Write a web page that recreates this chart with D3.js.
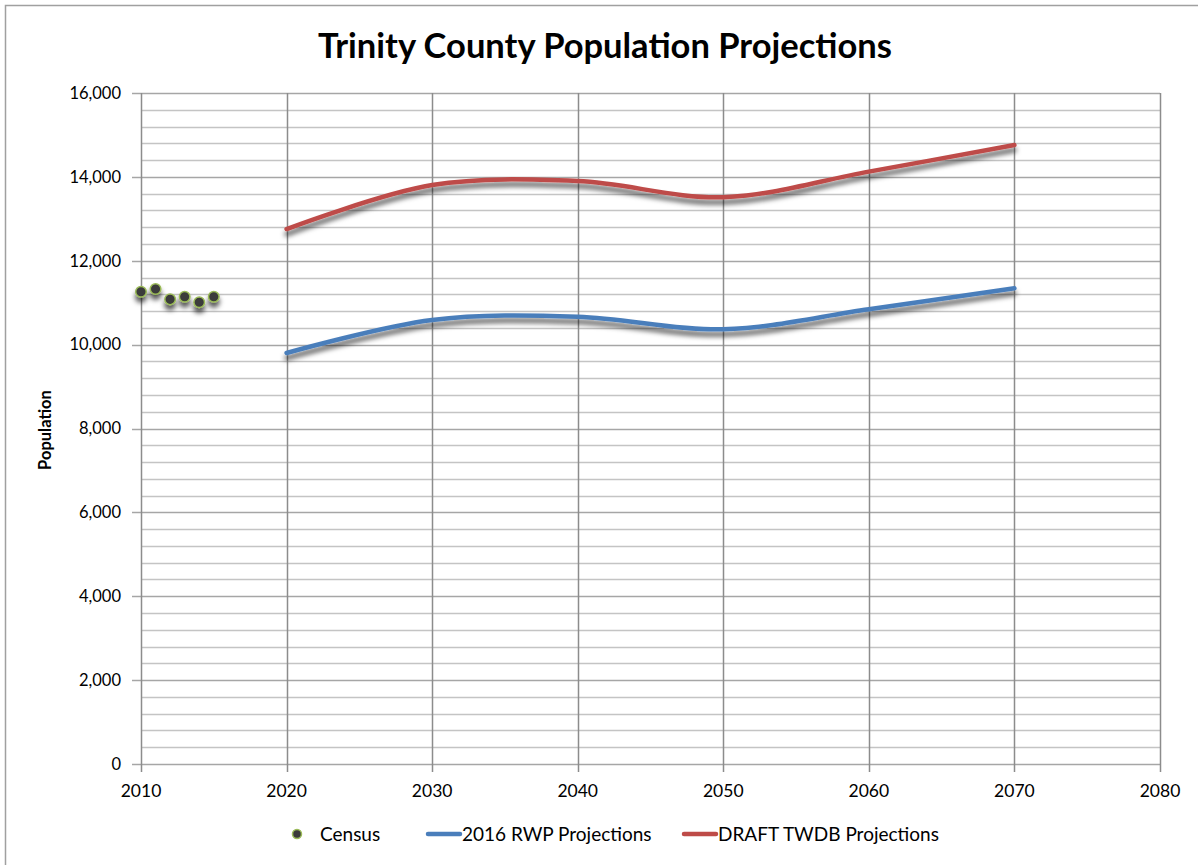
<!DOCTYPE html>
<html><head><meta charset="utf-8">
<script src="https://cdn.jsdelivr.net/npm/d3@7"></script>
<style>html,body{margin:0;padding:0;background:#fff;}svg{display:block;}</style>
</head><body>
<svg id="c" width="1198" height="865"></svg>
<script>
const title = "Trinity County Population Projections";
const yLabel = "Population";
const censusYears = [2010, 2011, 2012, 2013, 2014, 2015];
const censusValues = [11260, 11325, 11080, 11140, 11010, 11140];
const projYears = [2020, 2030, 2040, 2050, 2060, 2070];
const rwpValues = [9800, 10587, 10666, 10366, 10843, 11343];
const twdbValues = [12756, 13805, 13900, 13515, 14125, 14759];
const xTicks = [2010, 2020, 2030, 2040, 2050, 2060, 2070, 2080];
const yTicks = [0, 2000, 4000, 6000, 8000, 10000, 12000, 14000, 16000];
const legendNames = ["Census", "2016 RWP Projections", "DRAFT TWDB Projections"];

const font = "Lato, 'Open Sans', sans-serif";
const svg = d3.select("#c");
const L = 141, R = 1160, T = 93, B = 764;
const x = d3.scaleLinear().domain([2010, 2080]).range([L, R]);
const y = d3.scaleLinear().domain([0, 16000]).range([B, T]);

// border
svg.append("path").attr("d", `M5.5,865 V5.5 H1198`).attr("fill", "none")
  .attr("stroke", "#a0a0a0").attr("stroke-width", 1.5);

// shadow filter
const defs = svg.append("defs");
const f = defs.append("filter").attr("id", "sh").attr("x", "-10%").attr("y", "-50%").attr("width", "120%").attr("height", "200%");
f.append("feGaussianBlur").attr("in", "SourceAlpha").attr("stdDeviation", 2.5).attr("result", "b");
f.append("feOffset").attr("in", "b").attr("dx", 0).attr("dy", 5).attr("result", "o");
f.append("feFlood").attr("flood-color", "#000").attr("flood-opacity", 0.65);
f.append("feComposite").attr("in2", "o").attr("operator", "in").attr("result", "s");
const m = f.append("feMerge");
m.append("feMergeNode").attr("in", "s");
m.append("feMergeNode").attr("in", "SourceGraphic");

// minor gridlines
const minor = d3.range(0, 16001, 400).filter(v => v % 2000 !== 0);
svg.append("g").selectAll("line").data(minor).join("line")
  .attr("x1", L).attr("x2", R).attr("y1", d => Math.round(y(d)) + 0.5).attr("y2", d => Math.round(y(d)) + 0.5)
  .attr("stroke", "#c4c4c4").attr("stroke-width", 1.5);
// major horizontal
svg.append("g").selectAll("line").data(yTicks).join("line")
  .attr("x1", L - 9).attr("x2", R).attr("y1", d => Math.round(y(d)) + 0.5).attr("y2", d => Math.round(y(d)) + 0.5)
  .attr("stroke", "#a6a6a6").attr("stroke-width", 1.5);
// vertical
svg.append("g").selectAll("line").data(xTicks).join("line")
  .attr("x1", d => Math.round(x(d)) + 0.5).attr("x2", d => Math.round(x(d)) + 0.5).attr("y1", T).attr("y2", B + 8)
  .attr("stroke", "#8c8c8c").attr("stroke-width", 1.5);

// y tick labels
svg.append("g").selectAll("text").data(yTicks).join("text")
  .attr("x", L - 20).attr("y", d => y(d)).attr("dy", "0.35em").attr("text-anchor", "end")
  .attr("font-family", font).attr("font-size", 16.5).attr("fill", "#000")
  .text(d => d3.format(",")(d));
// x tick labels
svg.append("g").selectAll("text").data(xTicks).join("text")
  .attr("x", d => x(d)).attr("y", 797).attr("text-anchor", "middle")
  .attr("font-family", font).attr("font-size", 17.5).attr("fill", "#000")
  .text(d => d);

// title
svg.append("text").attr("x", 605).attr("y", 58).attr("text-anchor", "middle")
  .attr("font-family", font).attr("font-weight", "bold").attr("font-size", 34.5)
  .attr("fill", "#000").text(title);
// y label
svg.append("text").attr("transform", "translate(51,430) rotate(-90)").attr("text-anchor", "middle")
  .attr("font-family", font).attr("font-weight", "bold").attr("font-size", 16.5).text(yLabel);

// lines
const line = d3.line().x(d => x(d[0])).y(d => y(d[1])).curve(d3.curveCatmullRom.alpha(0.5));
const series = [
  {vals: rwpValues, color: "#4a7ebb"},
  {vals: twdbValues, color: "#be4b48"}
];
series.forEach(s => {
  svg.append("path").datum(projYears.map((yr, i) => [yr, s.vals[i]]))
    .attr("d", line).attr("fill", "none").attr("stroke", s.color)
    .attr("stroke-width", 4.5).attr("stroke-linecap", "round").attr("stroke-linejoin", "round")
    .attr("filter", "url(#sh)");
});

// census points
svg.append("g").attr("filter", "url(#sh)").selectAll("circle").data(censusYears).join("circle")
  .attr("cx", d => x(d)).attr("cy", (d, i) => y(censusValues[i])).attr("r", 5.3)
  .attr("fill", "#3a3a3a").attr("stroke", "#9bbb59").attr("stroke-width", 1.5);

// legend
const ly = 834;
const lfs = 19;
const lg = svg.append("g");
lg.append("circle").attr("cx", 297).attr("cy", ly).attr("r", 4.5).attr("fill", "#3a3a3a").attr("stroke", "#9bbb59").attr("stroke-width", 1.5);
lg.append("text").attr("x", 320).attr("y", ly).attr("dy", "0.35em").attr("font-family", font).attr("font-size", lfs).text(legendNames[0]);
lg.append("line").attr("x1", 428).attr("x2", 460).attr("y1", ly).attr("y2", ly).attr("stroke", "#4a7ebb").attr("stroke-width", 4.5).attr("stroke-linecap", "round");
lg.append("text").attr("x", 462).attr("y", ly).attr("dy", "0.35em").attr("font-family", font).attr("font-size", lfs).text(legendNames[1]);
lg.append("line").attr("x1", 684).attr("x2", 716).attr("y1", ly).attr("y2", ly).attr("stroke", "#be4b48").attr("stroke-width", 4.5).attr("stroke-linecap", "round");
lg.append("text").attr("x", 718).attr("y", ly).attr("dy", "0.35em").attr("font-family", font).attr("font-size", lfs).text(legendNames[2]);
</script>
</body></html>
